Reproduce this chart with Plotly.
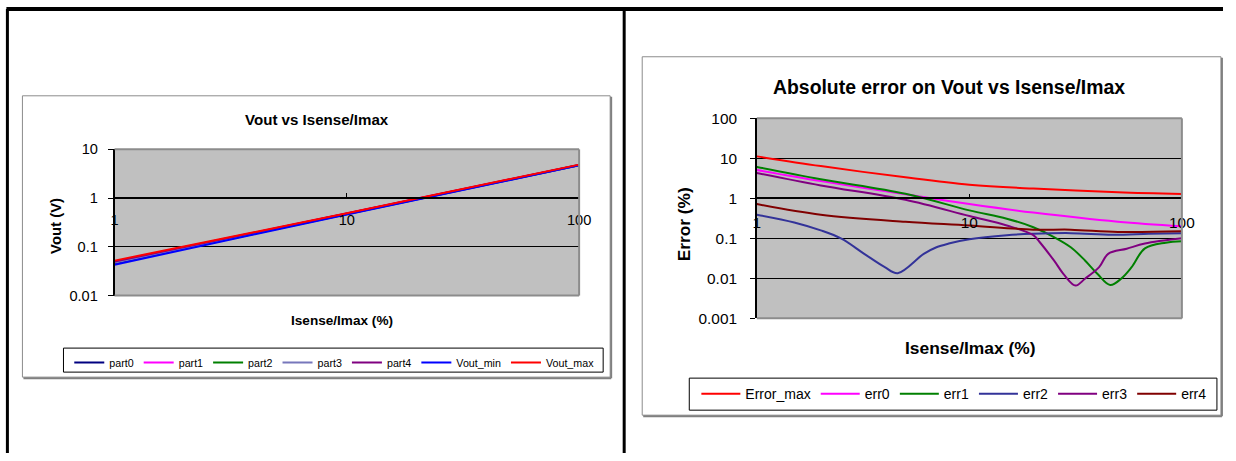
import plotly.graph_objects as go

W, H = 1236, 461
FONT = "Liberation Sans, Arial, sans-serif"
# measured mapping from page pixels to the returned picture: pic = S*page + O
SX, OX = 0.985, 3.6
SY, OY = 0.962, 9.3

# ---------------- Left chart data (Vout vs Isense/Imax) ----------------
vout_x = [1, 10, 100]
part0 = [0.046, 0.468, 4.74]
part1 = [0.049, 0.478, 4.79]
part2 = [0.048, 0.474, 4.77]
part3 = [0.047, 0.471, 4.76]
part4 = [0.050, 0.481, 4.80]
vout_min = [0.043, 0.462, 4.70]
vout_max = [0.052, 0.490, 4.86]

left_names = ["part0", "part1", "part2", "part3", "part4", "Vout_min", "Vout_max"]
left_colors = ["#000080", "#FF00FF", "#008000", "#7777BB", "#800080", "#0000FF", "#FF0000"]
left_series = [part0, part1, part2, part3, part4, vout_min, vout_max]

# ---------------- Right chart data (Absolute error) ----------------
emax_x = [1, 2, 5, 10, 20, 50, 100]
emax_y = [11.2, 6.4, 3.35, 2.2, 1.75, 1.42, 1.28]

err0_x = [1, 2, 5, 10, 20, 50, 100]
err0_y = [5.1, 2.7, 1.26, 0.72, 0.44, 0.26, 0.20]

err1_x = [1, 2, 5, 10, 15, 20, 25, 30, 35, 40, 46, 52, 58, 67, 84, 100]
err1_y = [6.1, 3.0, 1.3, 0.5, 0.31, 0.19, 0.108, 0.06, 0.028, 0.013, 0.0068, 0.010, 0.019, 0.056, 0.078, 0.085]

err2_x = [1, 1.5, 2, 2.5, 3.2, 4, 4.6, 6.1, 7, 8, 10, 15, 20, 30, 47, 70, 100]
err2_y = [0.39, 0.25, 0.158, 0.098, 0.041, 0.019, 0.0135, 0.041, 0.06, 0.074, 0.095, 0.12, 0.13, 0.135, 0.123, 0.13, 0.135]

err3_x = [1, 2, 5, 10, 15, 20, 21.4, 25, 28, 31.6, 35, 40.8, 45, 55, 67, 100]
err3_y = [4.3, 2.1, 0.92, 0.36, 0.21, 0.12, 0.081, 0.028, 0.012, 0.0066, 0.0098, 0.019, 0.041, 0.055, 0.074, 0.10]

err4_x = [1, 2, 5, 10, 20, 30, 50, 100]
err4_y = [0.72, 0.39, 0.26, 0.21, 0.165, 0.165, 0.145, 0.15]

right_names = ["Error_max", "err0", "err1", "err2", "err3", "err4"]
right_colors = ["#FF0000", "#FF00FF", "#008000", "#333399", "#800080", "#800000"]
right_series = [(emax_x, emax_y), (err0_x, err0_y), (err1_x, err1_y),
                (err2_x, err2_y), (err3_x, err3_y), (err4_x, err4_y)]

left_yticks = [0.01, 0.1, 1, 10]
left_yticktext = ["0.01", "0.1", "1", "10"]
right_yticks = [0.001, 0.01, 0.1, 1, 10, 100]
right_yticktext = ["0.001", "0.01", "0.1", "1", "10", "100"]
xticks = [1, 10, 100]
xticktext = ["1", "10", "100"]


def pgx(x):
    return (x - OX) / SX


def pgy(y):
    return (y - OY) / SY


def px(x):
    """target picture x -> paper fraction"""
    return pgx(x) / W


def py(y):
    """target picture y -> paper fraction"""
    return 1 - pgy(y) / H


fig = go.Figure()

for name, color, ys in zip(left_names, left_colors, left_series):
    fig.add_trace(go.Scatter(x=vout_x, y=ys, mode="lines", name=name,
                             line=dict(color=color, width=2),
                             xaxis="x", yaxis="y", legend="legend"))

for name, color, (xs, ys) in zip(right_names, right_colors, right_series):
    fig.add_trace(go.Scatter(x=xs, y=ys, mode="lines", name=name,
                             line=dict(color=color, width=2, shape="spline", smoothing=1),
                             xaxis="x2", yaxis="y2", legend="legend2"))

# plot-area geometry (target picture pixels)
L = dict(x0=114, x1=578, y0=149.5, y1=295.5)    # left plot area
R = dict(x0=755.5, x1=1180, y0=118.5, y1=318.3)  # right plot area
left_one = L["y1"] - (L["y1"] - L["y0"]) * 2 / 3     # y=1 on 0.01..10 scale
right_one = R["y1"] - (R["y1"] - R["y0"]) * 3 / 5    # y=1 on 0.001..100 scale


def axfont(size):
    return dict(family=FONT, color="black", size=size)


axis_common = dict(showline=True, linecolor="black", linewidth=1.5,
                   tickcolor="black", zeroline=False)

fig.update_layout(
    width=W, height=H,
    margin=dict(l=0, r=0, t=0, b=0),
    paper_bgcolor="white",
    plot_bgcolor="#C0C0C0",
    hovermode=False,
    font=dict(family=FONT, color="black"),
    xaxis=dict(domain=[px(L["x0"]), px(L["x1"])], type="log", range=[0, 2],
               anchor="free", position=py(left_one),
               tickvals=xticks, ticktext=xticktext, ticks="inside", ticklen=4,
               showgrid=False, ticklabelstandoff=9, tickfont=axfont(14.6), **axis_common),
    yaxis=dict(domain=[py(L["y1"]), py(L["y0"])], type="log", range=[-2, 1],
               anchor="x", tickvals=left_yticks, ticktext=left_yticktext,
               ticks="outside", ticklen=5, showgrid=True, gridcolor="black", gridwidth=1,
               ticklabelstandoff=7, tickfont=axfont(14.6), **axis_common),
    xaxis2=dict(domain=[px(R["x0"]), px(R["x1"])], type="log", range=[0, 2],
                anchor="free", position=py(right_one),
                tickvals=xticks, ticktext=xticktext, ticks="inside", ticklen=4,
                showgrid=False, ticklabelstandoff=10, tickfont=axfont(15.4), **axis_common),
    yaxis2=dict(domain=[py(R["y1"]), py(R["y0"])], type="log", range=[-3, 2],
                anchor="x2", tickvals=right_yticks, ticktext=right_yticktext,
                ticks="outside", ticklen=5, showgrid=True, gridcolor="black", gridwidth=1,
                ticklabelstandoff=10, tickfont=axfont(15.4), **axis_common),
    legend=dict(x=(pgx(74.7) - 6) / W, y=py(362.5), xanchor="left", yanchor="middle",
                orientation="h", borderwidth=0, bgcolor="rgba(0,0,0,0)",
                font=dict(family=FONT, size=10.7, color="black"), itemwidth=30,
                tracegroupgap=0),
    legend2=dict(x=(pgx(701) - 6) / W, y=py(394), xanchor="left", yanchor="middle",
                 orientation="h", borderwidth=0, bgcolor="rgba(0,0,0,0)",
                 font=dict(family=FONT, size=14, color="black"), itemwidth=39,
                 tracegroupgap=0),
)

shapes = []
# outer table frame
shapes.append(dict(type="line", xref="paper", yref="paper", x0=px(6), x1=1, y0=1, y1=1,
                   line=dict(color="black", width=4)))
shapes.append(dict(type="line", xref="paper", yref="paper", x0=px(7), x1=px(7), y0=1, y1=0,
                   line=dict(color="black", width=3)))
shapes.append(dict(type="line", xref="paper", yref="paper", x0=px(623), x1=px(623), y0=1, y1=0,
                   line=dict(color="black", width=3)))

# chart area boxes (with shadow on right / bottom)
for (x0, y0, x1, y1) in [(22, 96, 609, 377), (641, 57, 1219, 415)]:
    shapes.append(dict(type="rect", xref="paper", yref="paper", x0=px(x0), x1=px(x1),
                       y0=py(y0), y1=py(y1), line=dict(color="#8C8C8C", width=1), layer="below"))
    shapes.append(dict(type="line", xref="paper", yref="paper", x0=px(x1 + 1), x1=px(x1 + 1),
                       y0=py(y0 + 1), y1=py(y1 + 1), line=dict(color="#808080", width=2), layer="below"))
    shapes.append(dict(type="line", xref="paper", yref="paper", x0=px(x0 + 1), x1=px(x1 + 1),
                       y0=py(y1 + 1), y1=py(y1 + 1), line=dict(color="#808080", width=2), layer="below"))

# legend frames
for (x0, y0, x1, y1) in [(63, 348, 602, 372), (688, 378, 1215, 410)]:
    shapes.append(dict(type="rect", xref="paper", yref="paper", x0=px(x0), x1=px(x1),
                       y0=py(y0), y1=py(y1), line=dict(color="black", width=1), layer="below"))

# plot-area gray border (top, right, bottom)
for P in (L, R):
    for (a, b, c, d) in [(P["x0"], P["y0"], P["x1"], P["y0"]),
                         (P["x1"], P["y0"], P["x1"], P["y1"]),
                         (P["x0"], P["y1"], P["x1"], P["y1"])]:
        shapes.append(dict(type="line", xref="paper", yref="paper", x0=px(a), x1=px(c),
                           y0=py(b), y1=py(d), line=dict(color="#8C8C8C", width=2), layer="above"))

fig.update_layout(shapes=shapes)

annotations = [
    dict(text="<b>Vout vs Isense/Imax</b>", x=px(316), y=py(119.5), font=dict(size=15.1)),
    dict(text="<b>Vout (V)</b>", x=px(56), y=py(225.5), textangle=-90, font=dict(size=14.9)),
    dict(text="<b>Isense/Imax (%)</b>", x=px(341), y=py(320), font=dict(size=13.6)),
    dict(text="<b>Absolute error on Vout vs Isense/Imax</b>", x=px(947), y=py(87), font=dict(size=19.4)),
    dict(text="<b>Error (%)</b>", x=px(683), y=py(224), textangle=-90, font=dict(size=17.3)),
    dict(text="<b>Isense/Imax (%)</b>", x=px(969), y=py(347.5), font=dict(size=17.4)),
]
for a in annotations:
    a.update(xref="paper", yref="paper", showarrow=False, xanchor="center", yanchor="middle")
    a["font"].update(family=FONT, color="black")
fig.update_layout(annotations=annotations)

fig.write_html("out.html", config={"displayModeBar": False},
               post_script="document.body.style.margin='0';document.body.style.padding='0';"
                           "document.body.style.overflow='hidden';")
